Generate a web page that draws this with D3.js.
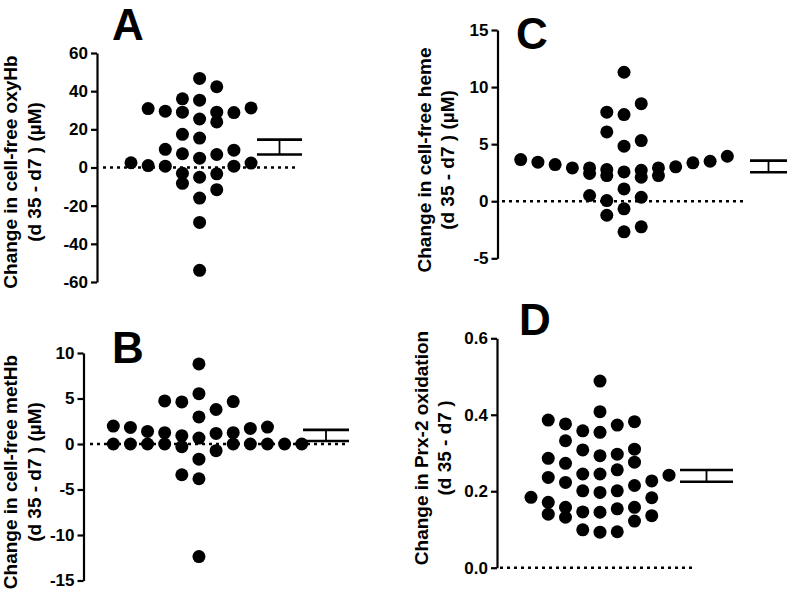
<!DOCTYPE html>
<html><head><meta charset="utf-8">
<script src="https://cdn.jsdelivr.net/npm/d3@7/dist/d3.min.js"></script>
<style>
body{margin:0;background:#fff;}
text{font-family:"Liberation Sans",Arial,sans-serif;font-weight:bold;fill:#000;}
</style></head>
<body><svg id="c" width="800" height="607"></svg>
<script>
// ---- data (values per beeswarm column) ----
const aValues = [[2.5],[30.9,1.0],[29.5,9.5,0.7],[36,29,17.4,7.2,-3,-8.3],[46.7,35.3,25.4,15.4,4.9,-5.1,-16,-28.8,-53.9],[42.3,29,23.9,6.8,-3.3,-11.6],[28.8,9.1,0.7],[31.2,2.3]];
const aSem = [6.8, 14.6];
const aTicks = [-60,-40,-20,0,20,40,60];
const bValues = [[1.97,0],[1.82,0],[1.38,0],[4.73,1.24,0],[4.62,0.91,-0.29,-3.38],[8.8,5.53,2.98,0.65,-1.67,-3.82,-12.37],[3.79,1.16,-0.73],[4.66,1.24,0],[1.71,0],[1.86,0],[0],[0]];
const bSem = [0.33, 1.55];
const bTicks = [-15,-10,-5,0,5,10];
const cValues = [[3.65],[3.42],[3.21],[2.92],[2.92,2.43,0.5],[7.8,6.07,2.77,2.25,0.06,-1.23],[11.3,7.59,4.82,2.57,1.08,-0.67,-2.68],[8.55,5.31,2.71,2.1,0.35,-2.24],[2.92,2.25],[3.01],[3.36],[3.5],[3.94]];
const cSem = [2.54, 3.56];
const cTicks = [-5,0,5,10,15];
const dValues = [[0.184],[0.386,0.286,0.236,0.171,0.140],[0.376,0.332,0.273,0.223,0.158,0.132],[0.358,0.308,0.245,0.201,0.146,0.099],[0.488,0.408,0.354,0.293,0.245,0.197,0.145,0.093],[0.373,0.297,0.256,0.201,0.154,0.094],[0.382,0.310,0.276,0.215,0.158,0.122],[0.227,0.183,0.136],[0.242]];
const dSem = [0.225, 0.2555];
const dTicks = [0,0.2,0.4,0.6];
const letters = ["A","B","C","D"];
const labels = [
  ["Change in cell-free oxyHb","(d 35 - d7 ) (\u00b5M)"],
  ["Change in cell-free metHb","(d 35 - d7 ) (\u00b5M)"],
  ["Change in cell-free heme","(d 35 - d7 ) (\u00b5M)"],
  ["Change in Prx-2 oxidation","(d 35 - d7 )"]
];

// ---- layout ----
const intFmt = v => d3.format("d")(v).replace("\u2212","-");
const panels = [
  {vals:aValues, sem:aSem, ticks:aTicks, fmt:intFmt, dom:[-60,60], yr:[282,53], ax:97, cx0:131, cstep:17.15, z:[103,295], sx:[257,302], letter:[112,40], lc:172, lb:[17,41]},
  {vals:bValues, sem:bSem, ticks:bTicks, fmt:intFmt, dom:[-15,10], yr:[580.5,353], ax:83.5, cx0:113.3, cstep:17.13, z:[90,345], sx:[303,349], letter:[112,363], lc:472, lb:[17,41]},
  {vals:cValues, sem:cSem, ticks:cTicks, fmt:intFmt, dom:[-5,15], yr:[258.3,30], ax:497.5, cx0:520.7, cstep:17.22, z:[502,743], sx:[750,787], letter:[516,49], lc:160, lb:[431,454]},
  {vals:dValues, sem:dSem, ticks:dTicks, fmt:d3.format(".1f"), dom:[0,0.6], yr:[567.7,338.3], ax:497, cx0:531, cstep:17.25, z:[500,695], sx:[680,733], letter:[519,335], lc:448, lb:[428,451]}
];

const svg = d3.select("#c");
panels.forEach((p,i)=>{
  const g = svg.append("g");
  const y = d3.scaleLinear().domain(p.dom).range(p.yr);
  const x = d3.scaleLinear().domain([0, p.vals.length-1]).range([p.cx0, p.cx0 + p.cstep*(p.vals.length-1)]);
  // axis
  const axis = d3.axisLeft(y).tickValues(p.ticks).tickFormat(p.fmt).tickSize(6).tickSizeOuter(0).tickPadding(3);
  const ag = g.append("g").attr("transform",`translate(${p.ax},0)`).call(axis);
  ag.select(".domain").attr("stroke","#000").attr("stroke-width",2.2);
  ag.selectAll(".tick line").attr("stroke","#000").attr("stroke-width",2.2);
  ag.selectAll(".tick text").style("font-size","17px").style("font-family","'Liberation Sans',Arial,sans-serif").style("font-weight","bold").attr("fill","#000");
  // zero dotted line
  g.append("line").attr("x1",p.z[0]).attr("x2",p.z[1]).attr("y1",y(0)).attr("y2",y(0))
    .attr("stroke","#000").attr("stroke-width",2.6).attr("stroke-dasharray","3,4");
  // dots
  const pts = [];
  p.vals.forEach((col,ci)=>col.forEach(v=>pts.push({c:ci,v})));
  g.selectAll("circle").data(pts).enter().append("circle")
    .attr("cx",d=>x(d.c)).attr("cy",d=>y(d.v)).attr("r",6.5).attr("fill","#000");
  // mean/SEM bars
  p.sem.forEach(v=>{
    g.append("line").attr("x1",p.sx[0]).attr("x2",p.sx[1]).attr("y1",y(v)).attr("y2",y(v))
      .attr("stroke","#000").attr("stroke-width",2.6);
  });
  g.append("line").attr("x1",(p.sx[0]+p.sx[1])/2).attr("x2",(p.sx[0]+p.sx[1])/2)
    .attr("y1",y(p.sem[0])).attr("y2",y(p.sem[1])).attr("stroke","#000").attr("stroke-width",1.8);
  // letter
  g.append("text").attr("x",p.letter[0]).attr("y",p.letter[1]).style("font-size","44px").text(letters[i]);
  // y label
  labels[i].forEach((t,li)=>{
    g.append("text").attr("transform",`translate(${p.lb[li]},${p.lc}) rotate(-90)`)
      .attr("text-anchor","middle").style("font-size","19px").text(t);
  });
});
</script></body></html>
